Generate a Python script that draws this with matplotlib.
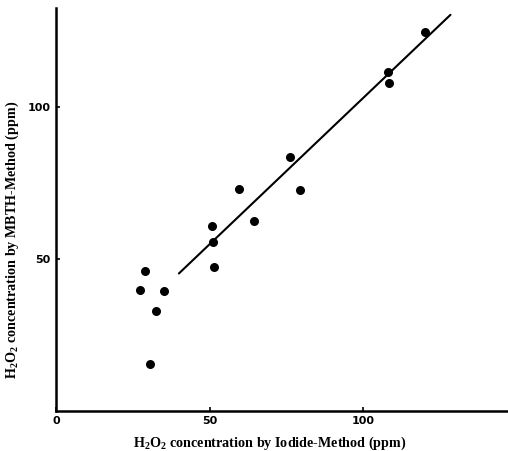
import numpy as np
import matplotlib
matplotlib.use("Agg")
import matplotlib.pyplot as plt

plt.rcParams["mathtext.fontset"] = "custom"
plt.rcParams["mathtext.rm"] = "Liberation Serif:bold"
plt.rcParams["mathtext.it"] = "Liberation Serif:bold"
plt.rcParams["mathtext.bf"] = "Liberation Serif:bold"

# H2O2 by iodide method (x) vs MBTH method (y), ppm
iodide = [28.9, 27.5, 35.0, 32.6, 30.6, 51.4, 51.2, 50.9, 59.5, 64.5,
          76.1, 79.3, 108.1, 108.4, 120.1]
mbth = [46.0, 39.8, 39.3, 32.7, 15.4, 47.4, 55.7, 60.7, 73.0, 62.3,
        83.4, 72.5, 111.4, 107.8, 124.7]

# regression line endpoints
fit_x = [40.0, 128.3]
fit_y = [45.2, 130.3]

xticks = [0, 50, 100]
xtick_labels = ["0", "50", "100"]
yticks = [50, 100]
ytick_labels = ["50", "100"]

fig = plt.figure(figsize=(5.08, 4.51), dpi=100)
ax = fig.add_axes([0.110, 0.089, 0.890, 0.893])

ax.plot(fit_x, fit_y, color="black", lw=1.5, solid_capstyle="round")
ax.scatter(iodide, mbth, s=30, color="black", zorder=3)

ax.set_xlim(0, 147)
ax.set_ylim(0, 132.5)

for side in ["top", "right"]:
    ax.spines[side].set_visible(False)
for side in ["left", "bottom"]:
    ax.spines[side].set_linewidth(1.8)

ax.set_xticks(xticks)
ax.set_xticklabels(xtick_labels)
ax.set_yticks(yticks)
ax.set_yticklabels(ytick_labels)
ax.tick_params(direction="in", length=3, width=1.2, pad=4)
for lab in ax.get_xticklabels() + ax.get_yticklabels():
    lab.set_fontfamily("DejaVu Sans")
    lab.set_fontweight("bold")
    lab.set_fontsize(8)

lab_font = dict(family="Liberation Serif", weight="bold", size=10.2)
ax.set_xlabel(r"$\mathrm{H_2O_2}$ concentration by Iodide-Method (ppm)", **lab_font)
ax.set_ylabel(r"$\mathrm{H_2O_2}$ concentration by MBTH-Method (ppm)", **lab_font)
ax.xaxis.set_label_coords(0.473, -0.058)
ax.yaxis.set_label_coords(-0.078, 0.424)

fig.savefig("out.png", dpi=100)
